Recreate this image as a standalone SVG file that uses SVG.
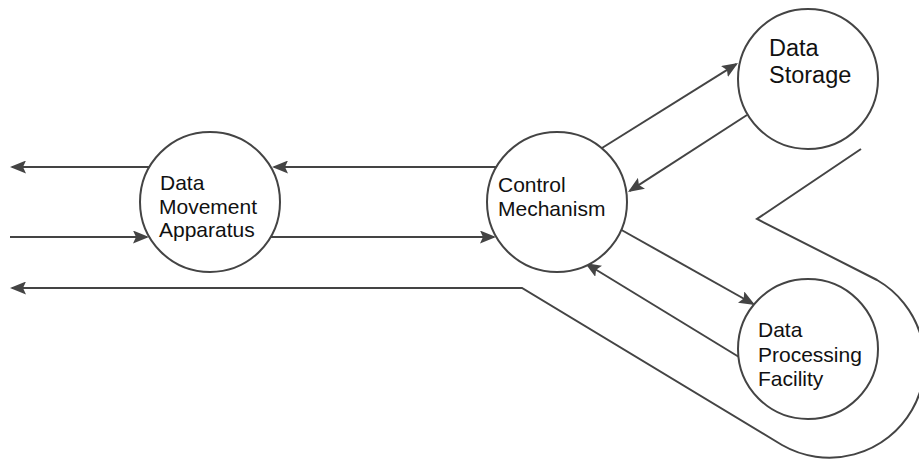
<svg xmlns="http://www.w3.org/2000/svg" width="919" height="460" viewBox="0 0 919 460">
<style>
.conn{fill:none;stroke:#444;stroke-width:2;marker-end:url(#arr)}
.node{fill:#fff;stroke:#444;stroke-width:2}
.lbl{font-family:"Liberation Sans",Arial,sans-serif;font-size:21px;fill:#111}
.big{font-size:23.5px}
</style>
<defs>
<marker id="arr" markerUnits="userSpaceOnUse" markerWidth="17" markerHeight="13" refX="14" refY="6.5" orient="auto" viewBox="0 0 17 13">
<path d="M0,0 L16,6.5 L0,13 L3,6.5 Z" fill="#444"/>
</marker>
</defs>
<rect width="919" height="460" fill="#fff"/>
<g id="connectors">
<line class="conn" x1="149" y1="167" x2="12" y2="167"/>
<line class="conn" x1="496" y1="167" x2="274" y2="167"/>
<line class="conn" x1="10" y1="237" x2="147" y2="237"/>
<line class="conn" x1="270" y1="237" x2="494" y2="237"/>
<path class="conn" d="M861,149 L757,219 L877,280 A95,95 0 0 1 782,445 L522,288 L12,288"/>
<line class="conn" x1="602" y1="148" x2="736.3" y2="64.1"/>
<line class="conn" x1="747" y1="115" x2="629.7" y2="190.9"/>
<line class="conn" x1="618" y1="228" x2="753.3" y2="304"/>
<line class="conn" x1="739" y1="357" x2="586.7" y2="264"/>
</g>
<g id="node-dma">
<circle class="node" cx="210" cy="202" r="70"/>
<text class="lbl" x="160" y="190">Data</text>
<text class="lbl" x="159" y="213.5">Movement</text>
<text class="lbl" x="159" y="237">Apparatus</text>
</g>
<g id="node-cm">
<circle class="node" cx="557" cy="202" r="70"/>
<text class="lbl" x="498" y="192">Control</text>
<text class="lbl" x="498" y="216">Mechanism</text>
</g>
<g id="node-ds">
<circle class="node" cx="808" cy="79" r="70"/>
<text class="lbl big" x="769" y="56">Data</text>
<text class="lbl big" x="769" y="83">Storage</text>
</g>
<g id="node-dpf">
<circle class="node" cx="808" cy="349" r="70"/>
<text class="lbl" x="758" y="337">Data</text>
<text class="lbl" x="758" y="361.5">Processing</text>
<text class="lbl" x="758" y="386">Facility</text>
</g>
</svg>
